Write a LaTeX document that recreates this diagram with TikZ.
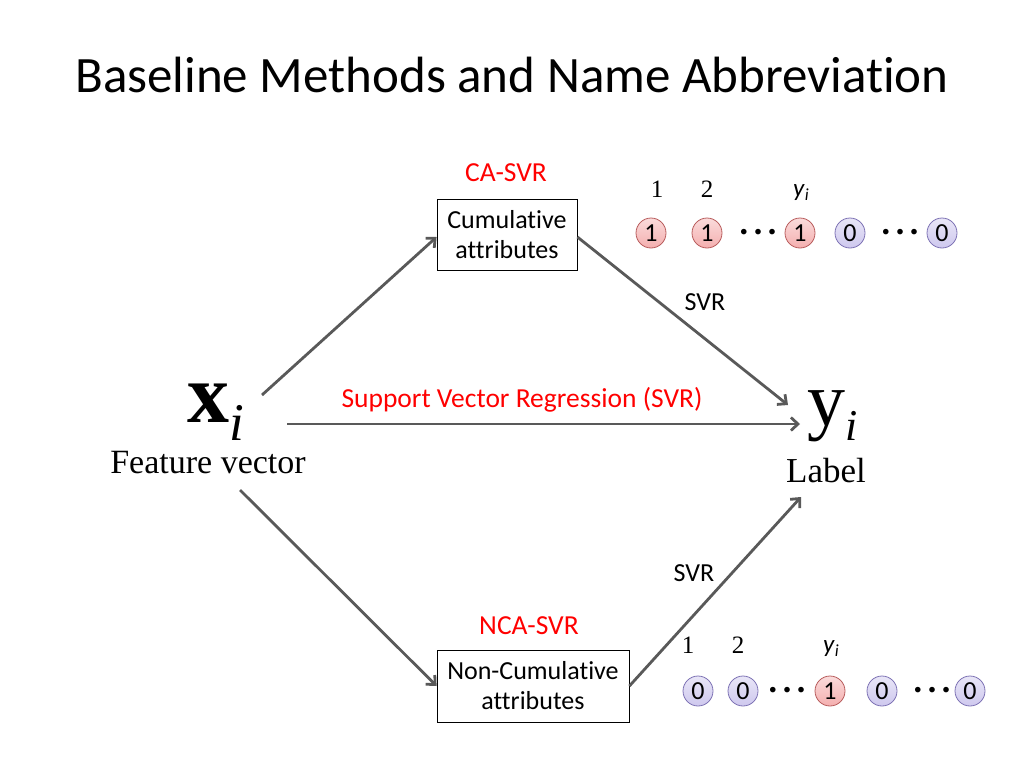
\documentclass[tikz,border=0pt]{standalone}
\usepackage{fontspec}
\setmainfont{Carlito}[Ligatures=NoCommon]
\newfontfamily\timesf{Liberation Serif}
\usetikzlibrary{positioning, calc, arrows.meta}

\definecolor{arrowgray}{HTML}{595959}
\definecolor{onefill}{HTML}{F4AFAF}
\definecolor{onedraw}{HTML}{B85C5C}
\definecolor{zerofill}{HTML}{CEC8EE}
\definecolor{zerodraw}{HTML}{7D72B4}

\newcommand{\bitdots}{\textbf{·}\hspace{6pt}\textbf{·}\hspace{6pt}\textbf{·}}

\tikzset{
    flow/.style={draw=arrowgray, line width=2.8pt, -{Straight Barb[length=7pt, width=13pt]}},
    attrbox/.style={draw, thick, align=center, inner sep=4pt, font=\fontsize{26}{30}\selectfont},
    redlabel/.style={red, font=\fontsize{27.5}{32}\selectfont},
    svrlabel/.style={font=\fontsize{26}{30}\selectfont},
    onebit/.style={circle, draw=onedraw, thick, top color=onefill!45, bottom color=onefill, minimum size=30pt, inner sep=0pt, font=\fontsize{26}{28}\selectfont},
    zerobit/.style={circle, draw=zerodraw, thick, top color=zerofill!45, bottom color=zerofill, minimum size=30pt, inner sep=0pt, font=\fontsize{26}{28}\selectfont},
    idx/.style={font=\timesf\fontsize{25}{28}\selectfont},
    dots/.style={inner sep=0pt, font=\fontsize{30}{30}\selectfont}
}

\begin{document}
\begin{tikzpicture}[x=1pt, y=-1pt]
    \useasboundingbox (0,0) rectangle (1024,768);

    % Title
    \node (title) at (512,75) {\fontsize{51}{60}\selectfont Baseline Methods and Name Abbreviation};

    % Input and output
    \node (xi) at (216,412) {\timesf\fontsize{84}{84}\selectfont\textbf{x}\raisebox{-0.21em}{\fontsize{53}{53}\selectfont\textit{i}}};
    \node (feat) at (208,463) {\timesf\fontsize{34}{34}\selectfont Feature vector};
    \node (yi) at (833,416) {\timesf\fontsize{76}{76}\selectfont y\raisebox{-0.2em}{\fontsize{44}{44}\selectfont\textit{i}}};
    \node (lab) at (826,471) {\timesf\fontsize{35}{35}\selectfont Label};

    % Attribute boxes
    \node[attrbox, minimum width=140pt, minimum height=71pt] (ca) at (507,235) {Cumulative\\attributes};
    \node[redlabel] (calab) at (506,173) {CA-SVR};
    \node[attrbox, minimum width=192pt, minimum height=72pt] (nca) at (533,686) {Non-Cumulative\\attributes};
    \node[redlabel] (ncalab) at (529,626) {NCA-SVR};

    % Arrow ends
    \coordinate (xup) at (262,395);
    \coordinate (xmid) at (287,424);
    \coordinate (xdown) at (240,490);
    \coordinate (yup) at (788,405);
    \coordinate (ymid) at (800,424);
    \coordinate (ydown) at (801,497);

    % Arrows
    \draw[flow] (xup) -- (ca.west |- 0,237);
    \draw[flow] (ca.east |- 0,237) -- (yup);
    \draw[flow] (xmid) -- (ymid);
    \draw[flow] (xdown) -- (nca.west |- 0,686);
    \draw[flow] (nca.east |- 0,686) -- (ydown);

    % Arrow labels
    \node[svrlabel] (svrtop) at (705,302) {SVR};
    \node[redlabel] (svrmid) at (522,400) {Support Vector Regression (SVR)};
    \node[svrlabel] (svrbot) at (694,573) {SVR};

    % Cumulative label vector
    \node[onebit] (a1) at (651,233) {1};
    \node[onebit] (a2) at (707,233) {1};
    \node[dots] (ad1) at (758,235) {\bitdots};
    \node[onebit] (a3) at (800,233) {1};
    \node[zerobit] (a4) at (850,233) {0};
    \node[dots] (ad2) at (900,235) {\bitdots};
    \node[zerobit] (a5) at (942,233) {0};
    \node[idx] (an1) at (657,189) {1};
    \node[idx] (an2) at (707,189) {2};
    \node[idx, font=\fontsize{25}{28}\selectfont] (ayi) at (801,193) {\textit{y}\raisebox{-0.3ex}{\fontsize{17}{18}\selectfont\textit{i}}};

    % Non-cumulative label vector
    \node[zerobit] (b1) at (698,691) {0};
    \node[zerobit] (b2) at (743,691) {0};
    \node[dots] (bd1) at (787,693) {\bitdots};
    \node[onebit] (b3) at (830,691) {1};
    \node[zerobit] (b4) at (882,691) {0};
    \node[dots] (bd2) at (932,693) {\bitdots};
    \node[zerobit] (b5) at (970,691) {0};
    \node[idx] (bn1) at (688,645) {1};
    \node[idx] (bn2) at (738,645) {2};
    \node[idx, font=\fontsize{25}{28}\selectfont] (byi) at (831,649) {\textit{y}\raisebox{-0.3ex}{\fontsize{17}{18}\selectfont\textit{i}}};
\end{tikzpicture}
\end{document}
